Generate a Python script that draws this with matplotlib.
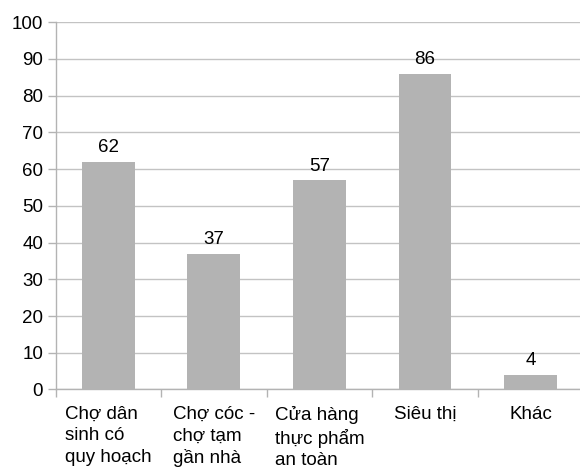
import matplotlib
matplotlib.use('Agg')
import matplotlib.pyplot as plt
import numpy as np

# data
categories = ['Chợ dân\nsinh có\nquy hoạch', 'Chợ cóc -\nchợ tạm\ngần nhà',
              'Cửa hàng\nthực phẩm\nan toàn', 'Siêu thị', 'Khác']
values = [62, 37, 57, 86, 4]
yticks = list(range(0, 101, 10))

plt.rcParams['font.family'] = ['Liberation Sans', 'DejaVu Sans']
fs = 13.5

fig = plt.figure(figsize=(5.8, 4.7), dpi=100)
ax = fig.add_axes([0.0957, 0.1713, 0.9103, 0.7817])

x = np.arange(len(values))
bars = ax.bar(x, values, width=0.5, color='#b3b3b3', zorder=2)
for b, v in zip(bars, values):
    ax.annotate(str(v), (b.get_x() + b.get_width() / 2, v), xytext=(0, 4),
                textcoords='offset points', ha='center', va='bottom',
                fontsize=fs, color='black')

ax.set_xlim(-0.5, len(values) - 0.5)
ax.set_ylim(0, 100)
ax.set_yticks(yticks)
ax.yaxis.grid(True, color='#c3c3c3', linewidth=1, zorder=0)
ax.set_axisbelow(True)

# category labels under the bars, ticks on the category boundaries
ax.set_xticks(x)
ax.set_xticklabels(categories, fontsize=fs, multialignment='left', va='top',
                   linespacing=1.33)
ax.tick_params(axis='x', length=0, pad=12)
ax.set_xticks(np.arange(len(values) + 1) - 0.5, minor=True)
ax.tick_params(axis='x', which='minor', length=6, color='#b3b3b3', width=1)
ax.tick_params(axis='y', length=6, color='#b3b3b3', width=1, labelsize=fs, pad=3)

for s in ['top', 'right']:
    ax.spines[s].set_visible(False)
for s in ['left', 'bottom']:
    ax.spines[s].set_color('#b3b3b3')
    ax.spines[s].set_linewidth(1)

plt.savefig('out.png', dpi=100)
